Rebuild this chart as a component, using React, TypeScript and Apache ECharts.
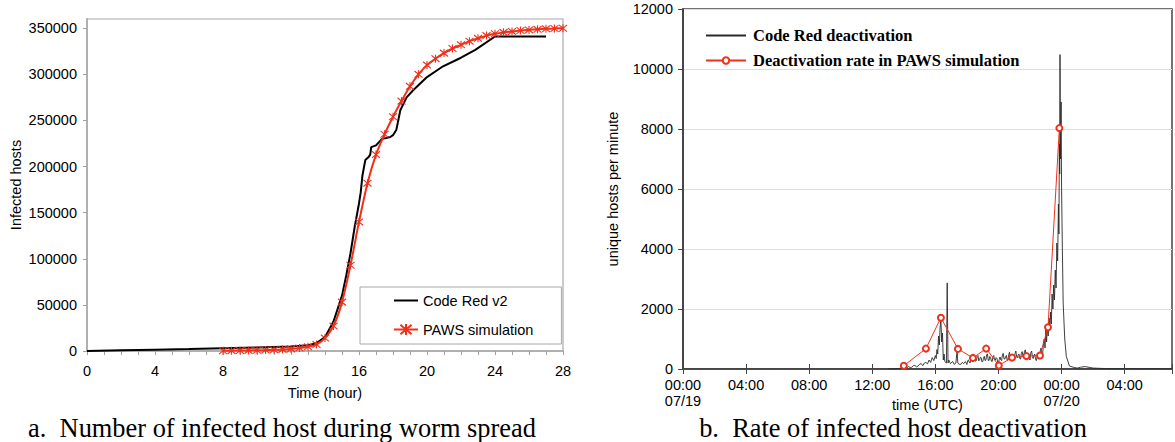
import React, { useEffect, useRef } from "react";
import * as echarts from "echarts";

// ---- Left chart (a): infected hosts over time ----
const spreadHours = [0, 2, 4, 6, 8, 10, 12, 13, 13.5, 14, 14.5, 15, 15.25, 15.5, 15.75, 16, 16.1, 16.2, 16.37, 16.55, 16.66, 16.72, 17, 17.35, 17.6, 17.84, 18, 18.2, 18.43, 18.8, 19.2, 20, 20.88, 22, 22.84, 24, 27];
const codeRedV2 = [0, 700, 1400, 2100, 3000, 3800, 4800, 6300, 8500, 15000, 32000, 60000, 82000, 106000, 135000, 160000, 172000, 190000, 207000, 210000, 213000, 221000, 223000, 230000, 231000, 232000, 234000, 240000, 261000, 275000, 283000, 297000, 308000, 318000, 326500, 341000, 341000];

const simHours = [8, 8.5, 9, 9.5, 10, 10.5, 11, 11.5, 12, 12.5, 13, 13.5, 14, 14.5, 15, 15.5, 16, 16.5, 17, 17.5, 18, 18.5, 19, 19.5, 20, 20.5, 21, 21.5, 22, 22.5, 23, 23.5, 24, 24.5, 25, 25.5, 26, 26.5, 27, 27.5, 28];
const pawsSim = [300, 400, 500, 600, 800, 1000, 1300, 1700, 2300, 3200, 4500, 7000, 14000, 27000, 53000, 93000, 140000, 182000, 213000, 235000, 254000, 271000, 287000, 300000, 310000, 317000, 323000, 328000, 332000, 336000, 339000, 342000, 344000, 345500, 346500, 347500, 348200, 348800, 349300, 349700, 350000];

const leftYTicks = [0, 50000, 100000, 150000, 200000, 250000, 300000, 350000];
const leftXTicks = [0, 4, 8, 12, 16, 20, 24, 28];

// ---- Right chart (b): deactivation rate (hours since 07/19 00:00 UTC) ----
const deactHours = [13.0, 13.5, 13.9, 14.0, 14.1, 14.2, 14.3, 14.4, 14.5, 14.6, 14.7, 14.8, 14.9, 15.0, 15.1, 15.2, 15.3, 15.4, 15.5, 15.6, 15.7, 15.8, 15.9, 16.0, 16.05, 16.1, 16.15, 16.2, 16.25, 16.3, 16.35, 16.4, 16.45, 16.5, 16.55, 16.6, 16.7, 16.75, 16.8, 16.85, 16.95, 17.1, 17.2, 17.3, 17.38, 17.42, 17.5, 17.6, 17.7, 17.8, 17.9, 18.0, 18.05, 18.1, 18.15, 18.2, 18.25, 18.3, 18.35, 18.4, 18.45, 18.5, 18.55, 18.6, 18.65, 18.7, 18.75, 18.8, 18.85, 18.9, 18.95, 19.0, 19.05, 19.1, 19.15, 19.2, 19.25, 19.3, 19.35, 19.4, 19.45, 19.5, 19.55, 19.6, 19.65, 19.7, 19.75, 19.8, 19.85, 19.9, 19.95, 20.0, 20.05, 20.1, 20.15, 20.2, 20.25, 20.3, 20.35, 20.4, 20.45, 20.5, 20.55, 20.6, 20.65, 20.7, 20.75, 20.8, 20.85, 20.9, 20.95, 21.0, 21.05, 21.1, 21.15, 21.2, 21.25, 21.3, 21.35, 21.4, 21.45, 21.5, 21.55, 21.6, 21.65, 21.7, 21.75, 21.8, 21.85, 21.9, 21.95, 22.0, 22.05, 22.1, 22.15, 22.2, 22.25, 22.3, 22.35, 22.4, 22.45, 22.5, 22.55, 22.6, 22.65, 22.7, 22.75, 22.8, 22.85, 22.9, 22.95, 23.0, 23.05, 23.1, 23.15, 23.2, 23.25, 23.3, 23.35, 23.4, 23.45, 23.5, 23.55, 23.6, 23.65, 23.7, 23.75, 23.8, 23.83, 23.86, 23.88, 23.9, 23.93, 23.97, 24.0, 24.05, 24.1, 24.2, 24.3, 24.5, 24.8, 25.0, 25.2, 25.5, 26.0, 27.0, 28.0, 29.0, 30.0, 30.5, 30.8, 31.0];
const codeRedDeact = [0, 10, 30, 20, 50, 30, 80, 50, 60, 110, 120, 70, 100, 160, 180, 110, 200, 220, 170, 300, 220, 380, 280, 450, 350, 650, 500, 1100, 800, 1400, 1640, 900, 1200, 300, 500, 250, 200, 2870, 200, 300, 180, 250, 150, 200, 640, 200, 160, 150, 220, 180, 250, 150, 280, 300, 220, 200, 330, 350, 240, 250, 380, 400, 260, 280, 420, 450, 270, 300, 390, 380, 240, 250, 360, 420, 280, 300, 480, 500, 290, 280, 420, 380, 260, 250, 410, 450, 300, 300, 380, 350, 220, 200, 320, 400, 300, 280, 470, 520, 340, 330, 400, 450, 290, 300, 480, 560, 380, 350, 440, 480, 330, 320, 520, 600, 420, 380, 470, 500, 350, 330, 520, 580, 420, 400, 590, 640, 450, 380, 470, 520, 340, 300, 540, 600, 410, 350, 460, 500, 320, 280, 400, 450, 330, 350, 600, 700, 550, 500, 850, 1000, 700, 1300, 900, 1500, 1100, 1700, 1300, 1900, 1500, 2500, 2000, 2800, 2300, 3300, 2700, 4200, 3600, 5500, 4500, 7500, 6500, 10480, 7000, 8900, 6000, 4000, 2200, 1000, 420, 100, 50, 30, 60, 80, 30, 10, 10, 5, 10, 5, 5, 20, 150, 500];

const pawsHours = [14.0, 15.4, 16.35, 17.43, 18.38, 19.22, 20.02, 20.86, 21.77, 22.63, 23.14, 23.86];
const pawsRate = [110, 680, 1710, 670, 370, 680, 120, 380, 430, 450, 1390, 8030];

const rightYTicks = [0, 2000, 4000, 6000, 8000, 10000, 12000];
const rightXTickHours = [0, 4, 8, 12, 16, 20, 24, 28];

const SANS = '"Liberation Sans", Arial, sans-serif';
const SERIF = '"Liberation Serif", "Times New Roman", serif';
const RED = "#f0301a";

const pairs = (xs: number[], ys: number[]) => xs.map((x, i) => [x, ys[i]]);
const pad2 = (n: number) => (n < 10 ? "0" + n : "" + n);
const ASTERISK = "path://M0,0L10,10M10,0L0,10M5,-1L5,11";
const HIDDEN_SYMBOL = { color: "rgba(0,0,0,0)", borderColor: "rgba(0,0,0,0)", borderWidth: 0, opacity: 0 };

export default function App() {
  const ref = useRef<HTMLDivElement>(null);
  useEffect(() => {
    if (!ref.current) return;
    const chart = echarts.init(ref.current, undefined, { renderer: "svg" });
    const option: any = {
      animation: false,
      backgroundColor: "#ffffff",
      textStyle: { fontFamily: SANS },
      grid: [
        { left: 87, top: 19, width: 476, height: 332, show: true, borderColor: "#a8a8a8", borderWidth: 1.2, backgroundColor: "transparent" },
        { left: 683, top: 9, width: 491, height: 360, show: true, borderColor: "#444", borderWidth: 1.5, backgroundColor: "transparent" },
      ],
      xAxis: [
        {
          gridIndex: 0, type: "value", min: 0, max: 28, interval: 1,
          name: "Time (hour)", nameLocation: "middle", nameGap: 34, nameMoveOverlap: false,
          nameTextStyle: { fontSize: 14.5, color: "#000", fontFamily: SANS },
          axisLine: { show: true, lineStyle: { color: "#b0b0b0", width: 2 } },
          axisTick: { show: true, length: 4, lineStyle: { color: "#a0a0a0" } },
          axisLabel: {
            margin: 12, fontSize: 14.5, color: "#000", fontFamily: SANS,
            formatter: (v: number) => (leftXTicks.indexOf(v) >= 0 ? String(v) : ""),
          },
          splitLine: { show: false },
        },
        {
          gridIndex: 1, type: "value", min: 0, max: 31, interval: 4,
          name: "time (UTC)", nameLocation: "middle", nameGap: 28, nameMoveOverlap: false,
          nameTextStyle: { fontSize: 14.5, color: "#000", fontFamily: SANS },
          axisLine: { show: true, lineStyle: { color: "#444", width: 1.5 } },
          axisTick: { show: true, inside: true, length: 5, lineStyle: { color: "#444" } },
          axisLabel: {
            margin: 8, fontSize: 14.5, color: "#000", fontFamily: SANS, lineHeight: 16,
            formatter: (v: number) => {
              if (rightXTickHours.indexOf(v) < 0) return "";
              const hh = pad2(v % 24) + ":00";
              if (v === 0) return hh + "\n07/19";
              if (v === 24) return hh + "\n07/20";
              return hh;
            },
          },
          splitLine: { show: false },
        },
        {
          gridIndex: 1, type: "value", min: 0, max: 31, interval: 4, position: "top",
          axisLine: { show: true, lineStyle: { color: "#444", width: 1.5 } },
          axisTick: { show: true, inside: true, length: 5, lineStyle: { color: "#444" } },
          axisLabel: { show: false },
          splitLine: { show: false },
        },
      ],
      yAxis: [
        {
          gridIndex: 0, type: "value", min: 0, max: 360000, interval: 50000,
          name: "Infected hosts", nameLocation: "middle", nameGap: 64, nameMoveOverlap: false,
          nameTextStyle: { fontSize: 14.5, color: "#000", fontFamily: SANS },
          axisLine: { show: true, lineStyle: { color: "#b0b0b0", width: 2 } },
          axisTick: { show: true, length: 4, lineStyle: { color: "#a0a0a0" } },
          axisLabel: {
            margin: 10, fontSize: 14.5, color: "#000", fontFamily: SANS, showMaxLabel: false,
            formatter: (v: number) => (leftYTicks.indexOf(v) >= 0 ? String(v) : ""),
          },
          splitLine: { show: false },
        },
        {
          gridIndex: 1, type: "value", min: 0, max: 12000, interval: 2000,
          name: "unique hosts per minute", nameLocation: "middle", nameGap: 63, nameMoveOverlap: false,
          nameTextStyle: { fontSize: 14.5, color: "#000", fontFamily: SANS },
          axisLine: { show: true, lineStyle: { color: "#444", width: 1.5 } },
          axisTick: { show: true, length: 4, lineStyle: { color: "#444" } },
          axisLabel: {
            margin: 10, fontSize: 14.5, color: "#000", fontFamily: SANS,
            formatter: (v: number) => (rightYTicks.indexOf(v) >= 0 ? String(v) : ""),
          },
          splitLine: { show: true, lineStyle: { color: "#dddddd", width: 1 } },
        },
        {
          gridIndex: 1, type: "value", min: 0, max: 12000, interval: 2000, position: "right",
          axisLine: { show: true, lineStyle: { color: "#444", width: 1.5 } },
          axisTick: { show: true, inside: true, length: 5, lineStyle: { color: "#444" } },
          axisLabel: { show: false },
          splitLine: { show: false },
        },
      ],
      legend: [
        {
          data: [
            { name: "Code Red v2", itemStyle: HIDDEN_SYMBOL },
            { name: "PAWS simulation" },
          ],
          orient: "vertical", left: 360, top: 287,
          padding: [6, 28, 7, 33], itemWidth: 24, itemHeight: 14, itemGap: 14,
          borderColor: "#a8a8a8", borderWidth: 1, backgroundColor: "#fff",
          textStyle: { fontSize: 14.5, color: "#000", fontFamily: SANS },
        },
        {
          data: [
            { name: "Code Red deactivation", itemStyle: HIDDEN_SYMBOL },
            { name: "Deactivation rate in PAWS simulation" },
          ],
          orient: "vertical", left: 705, top: 27,
          padding: 0, itemWidth: 40, itemHeight: 8, itemGap: 8,
          textStyle: { fontSize: 16.5, fontWeight: "bold", color: "#000", fontFamily: SERIF, padding: [0, 0, 0, 2] },
        },
      ],
      series: [
        {
          name: "Code Red v2", type: "line", xAxisIndex: 0, yAxisIndex: 0,
          data: pairs(spreadHours, codeRedV2), symbol: "none", smooth: false,
          lineStyle: { color: "#000", width: 2 }, itemStyle: { color: "#000" }, z: 2,
        },
        {
          name: "PAWS simulation", type: "line", xAxisIndex: 0, yAxisIndex: 0,
          data: pairs(simHours, pawsSim), symbol: ASTERISK, symbolSize: 8, showSymbol: true,
          smooth: 0.3,
          lineStyle: { color: RED, width: 2 },
          itemStyle: { color: RED, borderColor: RED, borderWidth: 1.1 }, z: 3,
        },
        {
          name: "Code Red deactivation", type: "line", xAxisIndex: 1, yAxisIndex: 1,
          data: pairs(deactHours, codeRedDeact), symbol: "none",
          lineStyle: { color: "#2a2a2a", width: 0.9 }, itemStyle: { color: "#2a2a2a" }, z: 2,
        },
        {
          name: "Deactivation rate in PAWS simulation", type: "line", xAxisIndex: 1, yAxisIndex: 1,
          data: pairs(pawsHours, pawsRate), symbol: "circle", symbolSize: 6, showSymbol: true,
          lineStyle: { color: RED, width: 1 },
          itemStyle: { color: "#fff", borderColor: RED, borderWidth: 2 }, z: 3,
        },
      ],
      graphic: [
        {
          type: "text", x: 282, y: 428,
          style: {
            text: "a.  Number of infected host during worm spread",
            font: '26.4px "Liberation Serif", serif', fill: "#000",
            align: "center", verticalAlign: "middle", textAlign: "center", textVerticalAlign: "middle",
          },
        },
        {
          type: "text", x: 893, y: 428,
          style: {
            text: "b.  Rate of infected host deactivation",
            font: '26.4px "Liberation Serif", serif', fill: "#000",
            align: "center", verticalAlign: "middle", textAlign: "center", textVerticalAlign: "middle",
          },
        },
      ],
    };
    chart.setOption(option);
    return () => chart.dispose();
  }, []);
  return (
    <div style={{ position: "absolute", left: 0, top: 0, width: 1175, height: 442, background: "#fff" }}>
      <div ref={ref} style={{ width: 1175, height: 442 }} />
    </div>
  );
}
